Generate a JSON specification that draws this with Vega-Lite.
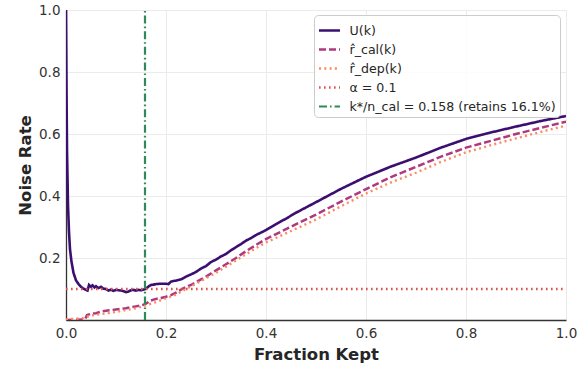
{
  "$schema": "https://vega.github.io/schema/vega-lite/v6.json",
  "autosize": {"type": "none"},
  "padding": {"left": 66, "top": 10, "right": 20, "bottom": 47},
  "width": 500,
  "height": 310,
  "background": "white",
  "config": {
    "view": {"stroke": null},
    "font": "DejaVu Sans",
    "axis": {
      "labelFont": "DejaVu Sans",
      "titleFont": "DejaVu Sans",
      "labelFontSize": 13.5,
      "labelColor": "#333333",
      "labelFlush": false,
      "titleFontSize": 16.5,
      "titleFontWeight": "bold",
      "titleColor": "#262626",
      "gridColor": "#ebebeb",
      "gridWidth": 1,
      "domainColor": "#333333",
      "domainWidth": 1.3,
      "ticks": false
    },
    "legend": {
      "labelFont": "DejaVu Sans",
      "labelFontSize": 12.6,
      "labelColor": "#262626",
      "labelLimit": 400
    }
  },
  "data": {
    "values": [
      {"s": "U", "x": 0.0, "y": 1.0},
      {"s": "U", "x": 0.001, "y": 0.75},
      {"s": "U", "x": 0.002, "y": 0.55},
      {"s": "U", "x": 0.004, "y": 0.37},
      {"s": "U", "x": 0.006, "y": 0.285},
      {"s": "U", "x": 0.008, "y": 0.228},
      {"s": "U", "x": 0.011, "y": 0.188},
      {"s": "U", "x": 0.015, "y": 0.152},
      {"s": "U", "x": 0.02, "y": 0.128},
      {"s": "U", "x": 0.025, "y": 0.116},
      {"s": "U", "x": 0.03, "y": 0.107},
      {"s": "U", "x": 0.035, "y": 0.101},
      {"s": "U", "x": 0.04, "y": 0.097},
      {"s": "U", "x": 0.043, "y": 0.095},
      {"s": "U", "x": 0.046, "y": 0.113},
      {"s": "U", "x": 0.05, "y": 0.107},
      {"s": "U", "x": 0.053, "y": 0.112},
      {"s": "U", "x": 0.057, "y": 0.105},
      {"s": "U", "x": 0.06, "y": 0.109},
      {"s": "U", "x": 0.065, "y": 0.103},
      {"s": "U", "x": 0.07, "y": 0.107},
      {"s": "U", "x": 0.075, "y": 0.101},
      {"s": "U", "x": 0.08, "y": 0.1},
      {"s": "U", "x": 0.085, "y": 0.095},
      {"s": "U", "x": 0.09, "y": 0.098},
      {"s": "U", "x": 0.095, "y": 0.094},
      {"s": "U", "x": 0.1, "y": 0.097},
      {"s": "U", "x": 0.105, "y": 0.096},
      {"s": "U", "x": 0.11, "y": 0.095},
      {"s": "U", "x": 0.115, "y": 0.093},
      {"s": "U", "x": 0.12, "y": 0.09},
      {"s": "U", "x": 0.125, "y": 0.092},
      {"s": "U", "x": 0.13, "y": 0.096},
      {"s": "U", "x": 0.135, "y": 0.097},
      {"s": "U", "x": 0.14, "y": 0.095},
      {"s": "U", "x": 0.145, "y": 0.097},
      {"s": "U", "x": 0.15, "y": 0.096},
      {"s": "U", "x": 0.155, "y": 0.098},
      {"s": "U", "x": 0.16, "y": 0.101},
      {"s": "U", "x": 0.165, "y": 0.108},
      {"s": "U", "x": 0.17, "y": 0.113},
      {"s": "U", "x": 0.175, "y": 0.114},
      {"s": "U", "x": 0.18, "y": 0.116},
      {"s": "U", "x": 0.19, "y": 0.117},
      {"s": "U", "x": 0.2, "y": 0.117},
      {"s": "U", "x": 0.205, "y": 0.116},
      {"s": "U", "x": 0.21, "y": 0.124},
      {"s": "U", "x": 0.215, "y": 0.126},
      {"s": "U", "x": 0.22, "y": 0.127},
      {"s": "U", "x": 0.23, "y": 0.131},
      {"s": "U", "x": 0.24, "y": 0.14},
      {"s": "U", "x": 0.25, "y": 0.147},
      {"s": "U", "x": 0.26, "y": 0.155},
      {"s": "U", "x": 0.27, "y": 0.166},
      {"s": "U", "x": 0.28, "y": 0.174},
      {"s": "U", "x": 0.29, "y": 0.187},
      {"s": "U", "x": 0.3, "y": 0.195},
      {"s": "U", "x": 0.31, "y": 0.205},
      {"s": "U", "x": 0.32, "y": 0.213},
      {"s": "U", "x": 0.33, "y": 0.225},
      {"s": "U", "x": 0.34, "y": 0.235},
      {"s": "U", "x": 0.35, "y": 0.245},
      {"s": "U", "x": 0.36, "y": 0.256},
      {"s": "U", "x": 0.37, "y": 0.264},
      {"s": "U", "x": 0.38, "y": 0.274},
      {"s": "U", "x": 0.39, "y": 0.282},
      {"s": "U", "x": 0.4, "y": 0.29},
      {"s": "U", "x": 0.42, "y": 0.309},
      {"s": "U", "x": 0.44, "y": 0.327},
      {"s": "U", "x": 0.46, "y": 0.346},
      {"s": "U", "x": 0.48, "y": 0.363},
      {"s": "U", "x": 0.5, "y": 0.38},
      {"s": "U", "x": 0.55, "y": 0.423},
      {"s": "U", "x": 0.6, "y": 0.462},
      {"s": "U", "x": 0.65, "y": 0.495},
      {"s": "U", "x": 0.7, "y": 0.524},
      {"s": "U", "x": 0.75, "y": 0.556},
      {"s": "U", "x": 0.8, "y": 0.584},
      {"s": "U", "x": 0.85, "y": 0.605},
      {"s": "U", "x": 0.9, "y": 0.624},
      {"s": "U", "x": 0.95, "y": 0.642},
      {"s": "U", "x": 1.0, "y": 0.658},

      {"s": "cal", "x": 0.0, "y": 0.0},
      {"s": "cal", "x": 0.038, "y": 0.002},
      {"s": "cal", "x": 0.042, "y": 0.016},
      {"s": "cal", "x": 0.05, "y": 0.02},
      {"s": "cal", "x": 0.06, "y": 0.022},
      {"s": "cal", "x": 0.07, "y": 0.027},
      {"s": "cal", "x": 0.08, "y": 0.03},
      {"s": "cal", "x": 0.09, "y": 0.032},
      {"s": "cal", "x": 0.1, "y": 0.034},
      {"s": "cal", "x": 0.11, "y": 0.036},
      {"s": "cal", "x": 0.12, "y": 0.038},
      {"s": "cal", "x": 0.13, "y": 0.041},
      {"s": "cal", "x": 0.14, "y": 0.044},
      {"s": "cal", "x": 0.15, "y": 0.047},
      {"s": "cal", "x": 0.155, "y": 0.049},
      {"s": "cal", "x": 0.16, "y": 0.053},
      {"s": "cal", "x": 0.165, "y": 0.058},
      {"s": "cal", "x": 0.17, "y": 0.063},
      {"s": "cal", "x": 0.18, "y": 0.068},
      {"s": "cal", "x": 0.19, "y": 0.071},
      {"s": "cal", "x": 0.2, "y": 0.075},
      {"s": "cal", "x": 0.21, "y": 0.08},
      {"s": "cal", "x": 0.22, "y": 0.088},
      {"s": "cal", "x": 0.23, "y": 0.098},
      {"s": "cal", "x": 0.24, "y": 0.106},
      {"s": "cal", "x": 0.25, "y": 0.113},
      {"s": "cal", "x": 0.26, "y": 0.122},
      {"s": "cal", "x": 0.27, "y": 0.131},
      {"s": "cal", "x": 0.28, "y": 0.14},
      {"s": "cal", "x": 0.29, "y": 0.15},
      {"s": "cal", "x": 0.3, "y": 0.16},
      {"s": "cal", "x": 0.32, "y": 0.18},
      {"s": "cal", "x": 0.34, "y": 0.2},
      {"s": "cal", "x": 0.36, "y": 0.222},
      {"s": "cal", "x": 0.38, "y": 0.242},
      {"s": "cal", "x": 0.4, "y": 0.261},
      {"s": "cal", "x": 0.45, "y": 0.301},
      {"s": "cal", "x": 0.5, "y": 0.34},
      {"s": "cal", "x": 0.55, "y": 0.382},
      {"s": "cal", "x": 0.6, "y": 0.422},
      {"s": "cal", "x": 0.65, "y": 0.461},
      {"s": "cal", "x": 0.7, "y": 0.494},
      {"s": "cal", "x": 0.75, "y": 0.527},
      {"s": "cal", "x": 0.8, "y": 0.556},
      {"s": "cal", "x": 0.85, "y": 0.578},
      {"s": "cal", "x": 0.9, "y": 0.6},
      {"s": "cal", "x": 0.95, "y": 0.62},
      {"s": "cal", "x": 1.0, "y": 0.64},

      {"s": "dep", "x": 0.0, "y": 0.002},
      {"s": "dep", "x": 0.02, "y": 0.004},
      {"s": "dep", "x": 0.035, "y": 0.006},
      {"s": "dep", "x": 0.045, "y": 0.012},
      {"s": "dep", "x": 0.06, "y": 0.017},
      {"s": "dep", "x": 0.08, "y": 0.021},
      {"s": "dep", "x": 0.1, "y": 0.026},
      {"s": "dep", "x": 0.12, "y": 0.032},
      {"s": "dep", "x": 0.14, "y": 0.038},
      {"s": "dep", "x": 0.16, "y": 0.047},
      {"s": "dep", "x": 0.18, "y": 0.058},
      {"s": "dep", "x": 0.2, "y": 0.07},
      {"s": "dep", "x": 0.22, "y": 0.082},
      {"s": "dep", "x": 0.24, "y": 0.1},
      {"s": "dep", "x": 0.26, "y": 0.117},
      {"s": "dep", "x": 0.28, "y": 0.135},
      {"s": "dep", "x": 0.3, "y": 0.152},
      {"s": "dep", "x": 0.32, "y": 0.172},
      {"s": "dep", "x": 0.34, "y": 0.192},
      {"s": "dep", "x": 0.36, "y": 0.212},
      {"s": "dep", "x": 0.38, "y": 0.232},
      {"s": "dep", "x": 0.4, "y": 0.25},
      {"s": "dep", "x": 0.45, "y": 0.287},
      {"s": "dep", "x": 0.5, "y": 0.324},
      {"s": "dep", "x": 0.55, "y": 0.367},
      {"s": "dep", "x": 0.6, "y": 0.408},
      {"s": "dep", "x": 0.65, "y": 0.444},
      {"s": "dep", "x": 0.7, "y": 0.475},
      {"s": "dep", "x": 0.75, "y": 0.51},
      {"s": "dep", "x": 0.8, "y": 0.541},
      {"s": "dep", "x": 0.85, "y": 0.564},
      {"s": "dep", "x": 0.9, "y": 0.586},
      {"s": "dep", "x": 0.95, "y": 0.607},
      {"s": "dep", "x": 1.0, "y": 0.627},

      {"s": "alpha", "x": 0.0, "y": 0.1},
      {"s": "alpha", "x": 1.0, "y": 0.1},

      {"s": "k", "x": 0.158, "y": 0.0},
      {"s": "k", "x": 0.158, "y": 1.0}
    ]
  },
  "mark": {"type": "line", "clip": true},
  "encoding": {
    "x": {
      "field": "x",
      "type": "quantitative",
      "scale": {"domain": [0, 1], "nice": false, "zero": false},
      "axis": {
        "title": "Fraction Kept",
        "values": [0, 0.2, 0.4, 0.6, 0.8, 1.0],
        "format": ".1f",
        "labelPadding": 6,
        "titlePadding": 7
      }
    },
    "y": {
      "field": "y",
      "type": "quantitative",
      "scale": {"domain": [0, 1], "nice": false, "zero": false},
      "axis": {
        "title": "Noise Rate",
        "values": [0.2, 0.4, 0.6, 0.8, 1.0],
        "format": ".1f",
        "labelPadding": 6,
        "titlePadding": 5
      }
    },
    "color": {
      "field": "s",
      "type": "nominal",
      "scale": {
        "domain": ["U", "cal", "dep", "alpha", "k"],
        "range": ["#3b0f70", "#b0387f", "#fc8961", "#d9534f", "#2e8b57"]
      },
      "legend": {
        "title": null,
        "orient": "none",
        "legendX": 248,
        "legendY": 5,
        "symbolType": "stroke",
        "symbolSize": 441,
        "symbolStrokeWidth": 2.2,
        "rowPadding": -1,
        "labelOffset": 8,
        "padding": 3.5,
        "fillColor": "rgba(255,255,255,0.85)",
        "strokeColor": "#cccccc",
        "cornerRadius": 4,
        "labelExpr": "datum.value == 'U' ? 'U(k)' : datum.value == 'cal' ? 'r̂_cal(k)' : datum.value == 'dep' ? 'r̂_dep(k)' : datum.value == 'alpha' ? 'α = 0.1' : 'k*/n_cal = 0.158 (retains 16.1%)'"
      }
    },
    "strokeDash": {
      "field": "s",
      "type": "nominal",
      "scale": {
        "domain": ["U", "cal", "dep", "alpha", "k"],
        "range": [[1, 0], [7, 3], [2, 3.3], [1.6, 3.4], [8, 3, 1.6, 3]]
      },
      "legend": null
    },
    "strokeWidth": {
      "field": "s",
      "type": "nominal",
      "scale": {
        "domain": ["U", "cal", "dep", "alpha", "k"],
        "range": [2.6, 2.2, 2.2, 1.6, 1.6]
      },
      "legend": null
    }
  }
}
